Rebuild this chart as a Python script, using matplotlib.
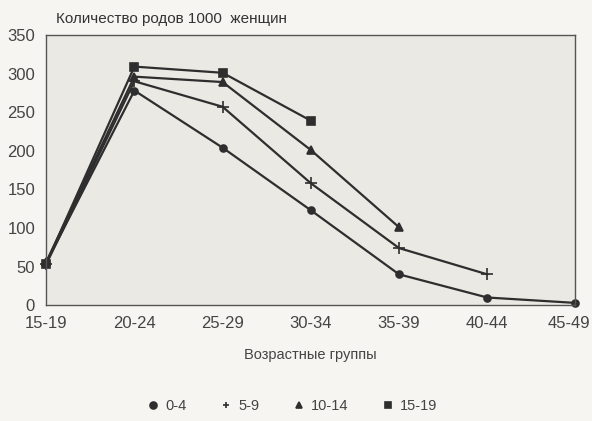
import matplotlib.pyplot as plt
import matplotlib.transforms as mtransforms

plt.rcParams['font.family'] = ['Liberation Sans', 'DejaVu Sans']

groups = ['15-19', '20-24', '25-29', '30-34', '35-39', '40-44', '45-49']
y_0_4 = [55, 278, 204, 123, 40, 10, 3]
y_5_9 = [53, 290, 257, 158, 74, 40]
y_10_14 = [56, 296, 289, 201, 101]
y_15_19 = [54, 309, 301, 239]

series = [
    ('0-4', y_0_4, 'o', 5),
    ('5-9', y_5_9, '+', 9),
    ('10-14', y_10_14, '^', 6),
    ('15-19', y_15_19, 's', 6),
]

fig = plt.figure(figsize=(5.92, 4.21), dpi=100)
fig.patch.set_facecolor('#f6f5f1')
ax = fig.add_axes([0.078, 0.275, 0.894, 0.642])
ax.set_facecolor('#ebe9e4')

for name, vals, mk, ms in series:
    ax.plot(range(len(vals)), vals, color='#2e2e2e', lw=1.6, marker=mk,
            markersize=ms, markeredgewidth=1.2, label=name, clip_on=False)

ax.set_xlim(0, 6)
ax.set_ylim(0, 350)
ax.set_xticks(range(len(groups)))
ax.set_xticklabels(groups, fontsize=12, color='#444444')
ax.set_yticks(range(0, 351, 50))
ax.tick_params(axis='y', labelsize=12, labelcolor='#444444', length=0, pad=8)
ax.tick_params(axis='x', length=0, pad=8)
for s in ax.spines.values():
    s.set_color('#555555')
    s.set_linewidth(1.0)

# last tick label sits a little left so it stays inside the picture
last = ax.get_xticklabels()[-1]
last.set_transform(last.get_transform() +
                   mtransforms.ScaledTranslation(-6 / 100, 0, fig.dpi_scale_trans))

ax.set_xlabel('Возрастные группы', fontsize=10.5, color='#444444', labelpad=12)
fig.text(0.095, 0.955, 'Количество родов 1000  женщин', fontsize=11,
         color='#333333', va='center')

handles, labels = ax.get_legend_handles_labels()
leg = fig.legend(handles, labels, loc='center', bbox_to_anchor=(0.495, 0.035),
                 ncol=4, frameon=False, fontsize=10.5, handlelength=0.6,
                 columnspacing=2.4, handletextpad=0.55)
for h in leg.legend_handles:
    h.set_linestyle('none')
    h.set_markersize(5)
for t in leg.get_texts():
    t.set_color('#444444')

fig.savefig('out.png', dpi=100, facecolor=fig.get_facecolor())
